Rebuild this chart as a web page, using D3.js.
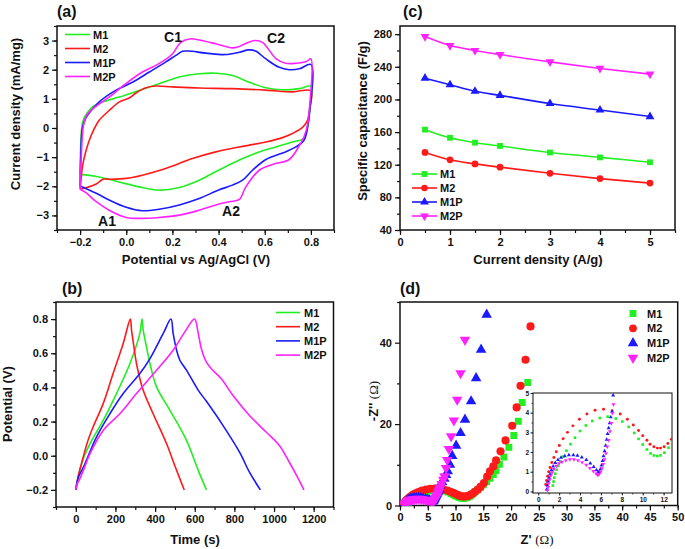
<!DOCTYPE html>
<html>
<head>
<meta charset="utf-8">
<script src="https://cdn.jsdelivr.net/npm/d3@7"></script>
<style>
  body { margin: 0; background: #fff; }
  svg text { font-family: "Liberation Sans", Arial, sans-serif; font-weight: bold; fill: #111; }
</style>
</head>
<body>
<div id="container"></div>
<script>
var names = ["M1", "M2", "M1P", "M2P"];
var colors = ["#22ee22", "#ff1a1a", "#1a1aff", "#ff22ff"];

// (a) cyclic voltammetry, [potential V, current mA/mg]
var cvM1 = [[-0.2,-1.6],[-0.198,-0.8],[-0.193,0.0],[-0.185,0.3],[-0.175,0.45],[-0.147,0.72],[-0.103,0.89],[-0.031,1.06],[0.056,1.29],[0.142,1.52],[0.23,1.75],[0.316,1.86],[0.388,1.88],[0.46,1.8],[0.533,1.57],[0.605,1.38],[0.677,1.31],[0.75,1.35],[0.8,1.43],
  [0.795,0.6],[0.785,0.0],[0.77,-0.36],[0.72,-0.48],[0.648,-0.65],[0.576,-0.82],[0.49,-1.1],[0.4,-1.45],[0.316,-1.79],[0.23,-2.04],[0.142,-2.13],[0.056,-2.02],[-0.031,-1.85],[-0.118,-1.68],[-0.19,-1.6],[-0.2,-1.6]];
var cvM2 = [[-0.2,-2.1],[-0.195,-1.7],[-0.19,-1.33],[-0.175,-0.8],[-0.16,-0.42],[-0.14,-0.05],[-0.118,0.26],[-0.074,0.6],[-0.031,0.89],[0.013,1.03],[0.042,1.2],[0.085,1.38],[0.128,1.44],[0.2,1.41],[0.316,1.37],[0.46,1.35],[0.605,1.3],[0.72,1.24],[0.8,1.27],
  [0.795,0.7],[0.785,0.26],[0.765,0.03],[0.72,-0.19],[0.677,-0.33],[0.605,-0.48],[0.49,-0.65],[0.388,-0.82],[0.287,-1.05],[0.171,-1.39],[0.07,-1.62],[0,-1.73],[-0.074,-1.76],[-0.1,-1.76],[-0.13,-1.92],[-0.175,-2.05],[-0.2,-2.1]];
var cvM1P = [[-0.2,-1.99],[-0.197,-1.0],[-0.19,0.0],[-0.175,0.35],[-0.16,0.52],[-0.118,0.89],[-0.046,1.29],[0.027,1.57],[0.1,1.92],[0.17,2.26],[0.215,2.49],[0.244,2.63],[0.27,2.64],[0.345,2.57],[0.43,2.52],[0.49,2.6],[0.53,2.68],[0.56,2.64],[0.605,2.37],[0.66,2.09],[0.706,2.0],[0.75,2.03],[0.8,2.18],
  [0.795,0.6],[0.785,0.0],[0.77,-0.42],[0.735,-0.65],[0.69,-0.82],[0.605,-1.08],[0.547,-1.45],[0.504,-1.79],[0.46,-1.96],[0.4,-2.13],[0.316,-2.42],[0.23,-2.64],[0.142,-2.79],[0.07,-2.84],[0,-2.72],[-0.074,-2.47],[-0.13,-2.24],[-0.2,-1.99]];
var cvM2P = [[-0.2,-2.1],[-0.195,-1.0],[-0.185,0.1],[-0.17,0.45],[-0.13,0.75],[-0.074,1.06],[-0.002,1.52],[0.07,1.92],[0.14,2.2],[0.2,2.54],[0.236,2.94],[0.28,3.06],[0.316,3.02],[0.388,2.89],[0.46,2.75],[0.49,2.8],[0.53,2.94],[0.56,3.0],[0.59,2.94],[0.65,2.37],[0.69,2.22],[0.735,2.22],[0.78,2.28],[0.8,2.37],
  [0.795,0.8],[0.785,0.1],[0.77,-0.3],[0.75,-0.6],[0.706,-1.08],[0.634,-1.25],[0.576,-1.45],[0.518,-2.02],[0.49,-2.45],[0.446,-2.53],[0.388,-2.64],[0.316,-2.82],[0.23,-2.99],[0.142,-3.07],[0.056,-3.1],[0,-3.07],[-0.074,-2.82],[-0.13,-2.53],[-0.175,-2.22],[-0.2,-2.1]];

// (b) charge/discharge, [time s, potential V]
var gcdM1 = [[0,-0.2],[5,-0.16],[20,-0.087],[40,-0.01],[71,0.07],[138,0.207],[205,0.364],[273,0.54],[323,0.716],[334,0.8],[340,0.735],[356,0.64],[374,0.54],[407,0.403],[475,0.266],[559,0.089],[618,-0.087],[659,-0.2]];
var gcdM2 = [[0,-0.2],[3.4,-0.185],[12,-0.12],[37,-0.009],[60,0.085],[87,0.168],[138,0.305],[188,0.481],[239,0.657],[275,0.8],[281,0.735],[293,0.64],[306,0.54],[340,0.383],[390,0.246],[458,0.07],[500,-0.06],[547,-0.2]];
var gcdM1P = [[0,-0.2],[5,-0.16],[15,-0.12],[37,-0.07],[104,0.109],[172,0.246],[239,0.364],[323,0.481],[374,0.569],[441,0.716],[480,0.8],[491,0.716],[508,0.62],[525,0.559],[559,0.5],[618,0.383],[658,0.32],[742,0.178],[826,0.021],[876,-0.096],[931,-0.2]];
var gcdM2P = [[0,-0.2],[5,-0.17],[20,-0.135],[40,-0.08],[71,0.011],[138,0.148],[222,0.246],[306,0.364],[407,0.5],[491,0.618],[550,0.725],[599,0.8],[616,0.726],[633,0.628],[658,0.55],[691,0.5],[733,0.452],[792,0.354],[876,0.236],[960,0.139],[1027,0.06],[1077,-0.038],[1119,-0.126],[1151,-0.2]];

// (c) specific capacitance vs current density
var capX = [0.5, 1, 1.5, 2, 3, 4, 5];
var capM1 = [163, 153, 147, 143, 135, 129, 123];
var capM2 = [135, 126, 121, 117, 109.5, 103, 97.5];
var capM1P = [226, 218, 210, 205, 195, 187, 179];
var capM2P = [277, 266, 260, 255, 246, 238, 231];

// (d) Nyquist, [Z', -Z'']
var eisM1 = [[1.4,0.3],[1.47,0.5],[1.53,0.7],[1.63,0.9],[1.76,1.1],[1.92,1.3],[2.12,1.52],[2.38,1.77],[2.7,2.07],[3.09,2.4],[3.52,2.73],[4.0,3.07],[4.56,3.35],[5.18,3.58],[5.9,3.73],[6.64,3.8],[7.43,3.7],[8.05,3.55],[8.66,3.28],[9.19,2.97],[9.6,2.67],[10.0,2.38],[10.4,2.13],[10.75,1.93],[11.07,1.83],[11.4,1.8],[11.7,1.83],[12.08,1.97],[12.47,2.22],[12.8,2.55],[13.1,2.9],[13.5,3.35],[14.0,3.9],[14.5,4.5],[15.0,5.1],[15.6,5.9],[16.2,6.7],[16.8,7.6],[17.3,8.6],[17.9,10.1],[18.7,11.9],[19.6,14.3],[20.5,17.2],[21.3,20.7],[22.0,25.3],[23.0,30.2]];
var eisM2 = [[0.72,0.35],[0.8,0.55],[0.9,0.77],[1.0,1.0],[1.13,1.22],[1.3,1.47],[1.5,1.72],[1.73,2.02],[2.02,2.33],[2.38,2.67],[2.8,3.0],[3.32,3.33],[3.94,3.67],[4.66,3.93],[5.44,4.12],[6.25,4.17],[7.07,4.1],[7.85,3.93],[8.53,3.67],[9.1,3.38],[9.6,3.1],[10.0,2.83],[10.4,2.6],[10.7,2.4],[11.07,2.27],[11.4,2.2],[11.7,2.2],[12.05,2.27],[12.4,2.43],[12.75,2.65],[13.1,2.95],[13.5,3.35],[14.0,3.9],[14.5,4.6],[15.1,5.5],[15.7,7.1],[16.2,8.4],[16.8,9.6],[17.3,11.1],[18.1,13.3],[19.0,16],[20.2,19.6],[21.0,24.1],[21.7,29.4],[22.6,35.8],[23.5,44]];
var eisM1P = [[0.81,0.1],[0.88,0.3],[0.94,0.5],[1.04,0.68],[1.14,0.88],[1.27,1.08],[1.43,1.27],[1.63,1.45],[1.89,1.6],[2.18,1.72],[2.54,1.8],[2.93,1.85],[3.36,1.85],[3.75,1.82],[4.17,1.73],[4.6,1.6],[4.98,1.43],[5.31,1.25],[5.57,1.08],[5.73,0.98],[5.86,1.0],[5.96,1.13],[6.06,1.33],[6.16,1.55],[6.25,1.8],[6.35,2.05],[6.45,2.33],[6.55,2.63],[6.64,2.92],[6.74,3.22],[6.84,3.47],[6.94,3.77],[7.07,4.05],[7.17,4.88],[7.6,5.7],[8.0,6.6],[8.3,7.5],[8.6,8.4],[9.0,10],[9.4,12.2],[10.1,14.7],[10.9,17.8],[11.7,21.1],[12.8,25.6],[13.7,31.3],[14.6,38.3],[15.6,46.9]];
var eisM2P = [[0.88,0.05],[0.94,0.22],[1.0,0.42],[1.1,0.6],[1.2,0.8],[1.34,0.97],[1.5,1.13],[1.73,1.3],[1.99,1.42],[2.28,1.5],[2.64,1.58],[3.03,1.62],[3.42,1.62],[3.81,1.57],[4.2,1.48],[4.59,1.35],[4.95,1.18],[5.28,1.03],[5.54,0.9],[5.7,0.83],[5.83,0.88],[5.96,1.0],[6.09,1.17],[6.22,1.38],[6.35,1.63],[6.48,1.93],[6.61,2.27],[6.74,2.6],[6.87,3.05],[7.0,3.47],[7.1,3.97],[7.2,4.42],[7.5,5.3],[7.8,6.3],[8.0,7.2],[8.3,9.2],[8.5,11.2],[8.8,13.9],[9.2,17],[9.7,20.9],[10.3,26],[10.9,32.5],[11.7,40.7]];

var symbols = [d3.symbolSquare, d3.symbolCircle, d3.symbolTriangle, d3.symbolTriangle];
var symRot = [0, 0, 0, 180];

var svg = d3.select('#container').append('svg')
  .attr('width', 685).attr('height', 549);

var clipN = 0;
function panel(o) {
  var g = svg.append('g').attr('transform', 'translate(' + o.left + ',' + o.top + ')');
  var x = d3.scaleLinear().domain(o.xd).range([0, o.w]);
  var y = d3.scaleLinear().domain(o.yd).range([o.h, 0]);
  var fs = o.fs || 11;
  var big = o.tick || 5, small = o.minor || 3;

  g.append('g').attr('transform', 'translate(0,' + o.h + ')')
    .call(d3.axisBottom(x).tickValues(o.xt).tickFormat(o.xf).tickSize(big).tickPadding(o.pad || 3).tickSizeOuter(0));
  g.append('g').attr('transform', 'translate(0,' + o.h + ')')
    .call(d3.axisBottom(x).tickValues(o.xm).tickFormat('').tickSize(small).tickSizeOuter(0));
  g.append('g')
    .call(d3.axisLeft(y).tickValues(o.yt).tickFormat(o.yf).tickSize(big).tickPadding(o.pad || 3).tickSizeOuter(0));
  g.append('g')
    .call(d3.axisLeft(y).tickValues(o.ym).tickFormat('').tickSize(small).tickSizeOuter(0));
  g.selectAll('.domain').remove();
  g.selectAll('.tick line').attr('stroke', '#111').attr('stroke-width', o.tw || 1.2);
  g.selectAll('.tick text').attr('font-size', fs).style('font-family', '"Liberation Sans", Arial, sans-serif')
    .style('font-weight', 'bold').attr('fill', '#111');

  g.append('rect').attr('width', o.w).attr('height', o.h)
    .attr('fill', o.bg || 'none').attr('stroke', '#111').attr('stroke-width', o.fw || 1.5)
    .lower();

  var id = 'clip' + (clipN++);
  g.append('clipPath').attr('id', id).append('rect').attr('width', o.w).attr('height', o.h);
  var plot = g.append('g').attr('clip-path', 'url(#' + id + ')');
  return { g: g, x: x, y: y, plot: plot };
}

function txt(x, y, s, size, anchor, rot) {
  var t = svg.append('text').attr('x', x).attr('y', y).attr('font-size', size)
    .attr('text-anchor', anchor || 'middle').text(s);
  if (rot) t.attr('transform', 'rotate(' + rot + ',' + x + ',' + y + ')');
  return t;
}

// ---------- (a) CV ----------
var A = panel({ left: 57, top: 26, w: 277, h: 204, xd: [-0.3, 0.9], yd: [-3.5, 3.5],
  xt: [-0.2, 0, 0.2, 0.4, 0.6, 0.8], xm: d3.range(-0.3, 0.91, 0.1).map(function(v) { return +v.toFixed(1); }),
  xf: d3.format('.1f'), yt: [-3, -2, -1, 0, 1, 2, 3], ym: d3.range(-3.5, 3.6, 0.5), yf: d3.format('d') });
var cvLine = d3.line().x(function(d) { return A.x(d[0]); }).y(function(d) { return A.y(d[1]); })
  .curve(d3.curveCatmullRom.alpha(0.5));
[cvM1, cvM2, cvM1P, cvM2P].forEach(function(s, i) {
  A.plot.append('path').datum(s).attr('d', cvLine).attr('fill', 'none')
    .attr('stroke', colors[i]).attr('stroke-width', 1.6);
});
names.forEach(function(n, i) {
  var yy = 34.5 + i * 14;
  svg.append('line').attr('x1', 65).attr('x2', 90).attr('y1', yy).attr('y2', yy)
    .attr('stroke', colors[i]).attr('stroke-width', 1.6);
  txt(93, yy + 4, n, 11, 'start');
});
txt(173, 42, 'C1', 14);
txt(276, 43, 'C2', 14);
txt(107, 226, 'A1', 14);
txt(231, 216, 'A2', 14);
txt(57, 17, '(a)', 16, 'start');
txt(196, 264, 'Potential vs Ag/AgCl (V)', 13);
txt(20, 114, 'Current density (mA/mg)', 13, 'middle', -90);

// ---------- (b) GCD ----------
var B = panel({ left: 56, top: 302, w: 277.5, h: 205, xd: [-100, 1300], yd: [-0.3, 0.9],
  xt: d3.range(0, 1201, 200), xm: d3.range(-100, 1301, 100), xf: d3.format('d'),
  yt: [-0.2, 0, 0.2, 0.4, 0.6, 0.8], ym: d3.range(-0.3, 0.91, 0.1).map(function(v) { return +v.toFixed(1); }),
  yf: d3.format('.1f') });
var gcdLine = d3.line().x(function(d) { return B.x(d[0]); }).y(function(d) { return B.y(d[1]); })
  .curve(d3.curveCatmullRom.alpha(0.5));
[gcdM1, gcdM2, gcdM1P, gcdM2P].forEach(function(s, i) {
  B.plot.append('path').datum(s).attr('d', gcdLine).attr('fill', 'none')
    .attr('stroke', colors[i]).attr('stroke-width', 1.6);
});
names.forEach(function(n, i) {
  var yy = 312.5 + i * 14.2;
  svg.append('line').attr('x1', 276).attr('x2', 300).attr('y1', yy).attr('y2', yy)
    .attr('stroke', colors[i]).attr('stroke-width', 1.6);
  txt(304, yy + 4, n, 11, 'start');
});
txt(62, 294, '(b)', 16, 'start');
txt(195, 544, 'Time (s)', 13);
txt(12, 404, 'Potential (V)', 13, 'middle', -90);

// ---------- (c) capacitance ----------
var C = panel({ left: 400, top: 26, w: 275, h: 204, xd: [0, 5.5], yd: [40, 290],
  xt: [0, 1, 2, 3, 4, 5], xm: d3.range(0, 5.51, 0.5), xf: d3.format('d'),
  yt: d3.range(40, 281, 40), ym: d3.range(40, 291, 20), yf: d3.format('d') });
var capLine = d3.line().x(function(d) { return C.x(d[0]); }).y(function(d) { return C.y(d[1]); })
  .curve(d3.curveMonotoneX);
[capM1, capM2, capM1P, capM2P].forEach(function(s, i) {
  var pts = capX.map(function(v, k) { return [v, s[k]]; });
  C.plot.append('path').datum(pts).attr('d', capLine).attr('fill', 'none')
    .attr('stroke', colors[i]).attr('stroke-width', 1.6);
  C.plot.selectAll(null).data(pts).enter().append('path')
    .attr('d', d3.symbol().type(symbols[i]).size(i === 1 ? 36 : 34))
    .attr('transform', function(d) { return 'translate(' + C.x(d[0]) + ',' + C.y(d[1]) + ') rotate(' + symRot[i] + ')'; })
    .attr('fill', colors[i]);
});
names.forEach(function(n, i) {
  var yy = 174 + i * 14;
  svg.append('line').attr('x1', 412).attr('x2', 437).attr('y1', yy).attr('y2', yy)
    .attr('stroke', colors[i]).attr('stroke-width', 1.6);
  svg.append('path').attr('d', d3.symbol().type(symbols[i]).size(34)())
    .attr('transform', 'translate(424.5,' + yy + ') rotate(' + symRot[i] + ')').attr('fill', colors[i]);
  txt(440, yy + 4, n, 11, 'start');
});
txt(403, 17, '(c)', 16, 'start');
txt(538, 264, 'Current density (A/g)', 13);
txt(367, 121, 'Specific capacitance (F/g)', 13, 'middle', -90);

// ---------- (d) Nyquist ----------
var D = panel({ left: 400, top: 302, w: 277.7, h: 203.5, xd: [0, 50], yd: [0, 50],
  xt: d3.range(0, 51, 5), xm: d3.range(0, 51, 2.5), xf: d3.format('d'),
  yt: [0, 20, 40], ym: [10, 30, 50], yf: d3.format('d') });
var eisSets = [eisM1, eisM2, eisM1P, eisM2P];
eisSets.forEach(function(s, i) {
  D.plot.selectAll(null).data(s).enter().append('path')
    .attr('d', d3.symbol().type(symbols[i]).size(i === 1 ? 52 : 48))
    .attr('transform', function(d) { return 'translate(' + D.x(d[0]) + ',' + D.y(d[1]) + ') rotate(' + symRot[i] + ')'; })
    .attr('fill', colors[i]);
});
names.forEach(function(n, i) {
  var yy = 313.5 + i * 14.8;
  svg.append('path').attr('d', d3.symbol().type(symbols[i]).size(48)())
    .attr('transform', 'translate(633,' + yy + ') rotate(' + symRot[i] + ')').attr('fill', colors[i]);
  txt(647, yy + 4, n, 11, 'start');
});
txt(400, 294, '(d)', 16, 'start');
var xl = txt(537, 544, "Z' ", 13);
xl.append('tspan').style('font-family', '"Liberation Serif", "Times New Roman", serif').style('font-weight', 'normal').text('(Ω)');
var yl = txt(378, 401, "-Z'' ", 13, 'middle', -90);
yl.append('tspan').style('font-family', '"Liberation Serif", "Times New Roman", serif').style('font-weight', 'normal').text('(Ω)');

// inset
var I = panel({ left: 533, top: 393, w: 139, h: 100, xd: [-0.5, 12.8], yd: [-0.08, 5],
  xt: d3.range(0, 13, 2), xm: d3.range(0, 13, 1), xf: d3.format('d'),
  yt: [0, 1, 2, 3, 4, 5], ym: d3.range(0, 5.1, 0.5), yf: d3.format('d'),
  fs: 6.5, tick: 2.5, minor: 1.5, pad: 1.5, tw: 0.8, fw: 1, bg: '#fff' });
eisSets.forEach(function(s, i) {
  I.plot.selectAll(null).data(s).enter().append('path')
    .attr('d', d3.symbol().type(symbols[i]).size(7))
    .attr('transform', function(d) { return 'translate(' + I.x(d[0]) + ',' + I.y(d[1]) + ') rotate(' + symRot[i] + ')'; })
    .attr('fill', colors[i]);
});
</script>
</body>
</html>
